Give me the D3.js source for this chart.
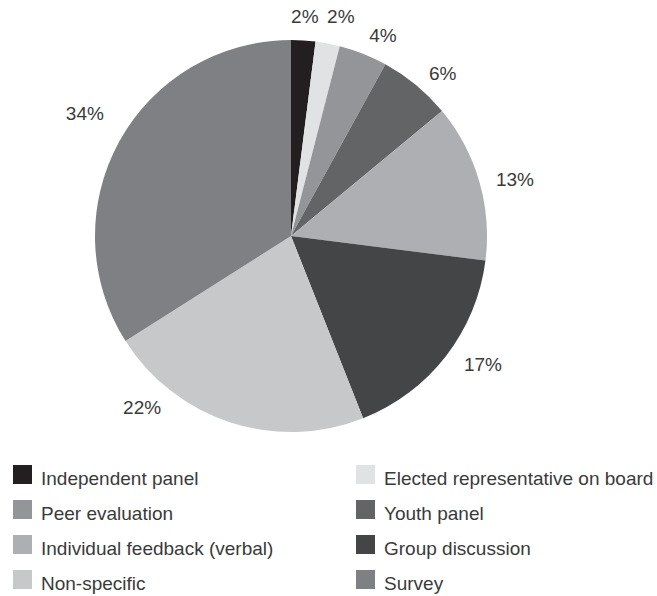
<!DOCTYPE html>
<html>
<head>
<meta charset="utf-8">
<script src="https://cdn.jsdelivr.net/npm/d3@7"></script>
<style>
  html, body { margin: 0; padding: 0; background: #fff; }
  svg { display: block; }
  text { font-family: "Liberation Sans", Arial, Helvetica, sans-serif; fill: #3a3a3a; }
</style>
</head>
<body>
<svg id="chart" width="657" height="596"></svg>
<script>
// Share of feedback methods (percent), clockwise from 12 o'clock
const categories = [
  "Independent panel",
  "Elected representative on board",
  "Peer evaluation",
  "Youth panel",
  "Individual feedback (verbal)",
  "Group discussion",
  "Non-specific",
  "Survey"
];
const values = [2, 2, 4, 6, 13, 17, 22, 34];
const colors = ["#231f20", "#e1e2e3", "#939598", "#636466", "#aeafb2", "#444547", "#c7c8ca", "#7f8083"];

// Legend order: two columns, read row by row
const legendLeft = ["Independent panel", "Peer evaluation", "Individual feedback (verbal)", "Non-specific"];
const legendRight = ["Elected representative on board", "Youth panel", "Group discussion", "Survey"];

// Label placement tweaks (layout only): angle shift in degrees and distance from centre
const labelShift = [0, 2, 3, 3.5, 2, -4, 23, 2];
const labelDist = [220, 225, 221, 222, 231, 231, 227, 240];

const svg = d3.select("#chart");
const cx = 291, cy = 236, radius = 196;

const color = d3.scaleOrdinal().domain(categories).range(colors);
const data = categories.map((c, i) => ({ name: c, value: values[i], idx: i }));

const pie = d3.pie().value(d => d.value).sort(null);
const arc = d3.arc().innerRadius(0).outerRadius(radius);

const g = svg.append("g").attr("transform", `translate(${cx},${cy})`);
const arcs = pie(data);

g.selectAll("path.slice")
  .data(arcs)
  .join("path")
  .attr("class", "slice")
  .attr("d", arc)
  .attr("fill", d => color(d.data.name));

function labelPos(d) {
  const a = (d.startAngle + d.endAngle) / 2 + labelShift[d.data.idx] * Math.PI / 180;
  const r = labelDist[d.data.idx];
  return [Math.sin(a) * r, -Math.cos(a) * r];
}

g.selectAll("text.pct")
  .data(arcs)
  .join("text")
  .attr("class", "pct")
  .attr("transform", d => `translate(${labelPos(d)})`)
  .attr("text-anchor", "middle")
  .attr("dominant-baseline", "central")
  .attr("font-size", 19)
  .text(d => d.data.value + "%");

// Legend
const legend = svg.append("g");
const rowY = d3.scaleBand().domain(d3.range(4)).range([465, 605]).paddingInner(0);
const columns = [
  { items: legendLeft, x: 13 },
  { items: legendRight, x: 356 }
];
columns.forEach(col => {
  const rows = legend.append("g").selectAll("g")
    .data(col.items)
    .join("g")
    .attr("transform", (d, i) => `translate(${col.x},${rowY(i)})`);
  rows.append("rect")
    .attr("width", 19).attr("height", 19)
    .attr("fill", d => color(d));
  rows.append("text")
    .attr("x", 28).attr("y", 20)
    .attr("font-size", 19)
    .text(d => d);
});
</script>
</body>
</html>
